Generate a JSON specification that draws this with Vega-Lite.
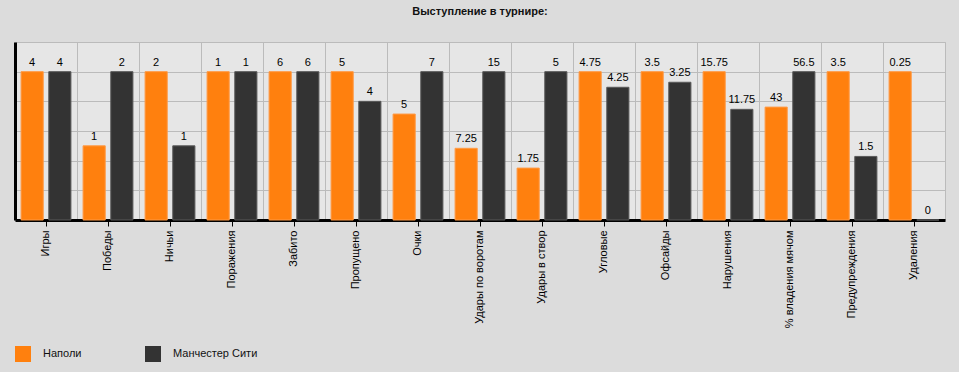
{
  "$schema": "https://vega.github.io/schema/vega-lite/v6.json",
  "width": 930,
  "height": 178,
  "autosize": {"type": "none"},
  "padding": {"left": 15, "top": 42, "right": 14, "bottom": 152},
  "background": "#dcdcdc",
  "title": {
    "text": "Выступление в турнире:",
    "font": "Liberation Sans",
    "fontSize": 11,
    "fontWeight": "bold",
    "color": "#111111",
    "offset": 25,
    "anchor": "middle"
  },
  "config": {
    "view": {
      "stroke": "#bbbbbb",
      "strokeWidth": 1,
      "fill": "#e6e6e6"
    },
    "axis": {"gridColor": "#bbbbbb", "gridWidth": 1, "gridOpacity": 1},
    "axisY": {
      "title": null,
      "labels": false,
      "ticks": false,
      "grid": true,
      "values": [0, 0.2, 0.4, 0.6, 0.8, 1, 1.2],
      "domainColor": "#000000",
      "domainWidth": 3
    }
  },
  "data": {
    "values": [
      {"cat": "Игры", "team": "Наполи", "value": 4},
      {"cat": "Игры", "team": "Манчестер Сити", "value": 4},
      {"cat": "Победы", "team": "Наполи", "value": 1},
      {"cat": "Победы", "team": "Манчестер Сити", "value": 2},
      {"cat": "Ничьи", "team": "Наполи", "value": 2},
      {"cat": "Ничьи", "team": "Манчестер Сити", "value": 1},
      {"cat": "Поражения", "team": "Наполи", "value": 1},
      {"cat": "Поражения", "team": "Манчестер Сити", "value": 1},
      {"cat": "Забито", "team": "Наполи", "value": 6},
      {"cat": "Забито", "team": "Манчестер Сити", "value": 6},
      {"cat": "Пропущено", "team": "Наполи", "value": 5},
      {"cat": "Пропущено", "team": "Манчестер Сити", "value": 4},
      {"cat": "Очки", "team": "Наполи", "value": 5},
      {"cat": "Очки", "team": "Манчестер Сити", "value": 7},
      {"cat": "Удары по воротам", "team": "Наполи", "value": 7.25},
      {"cat": "Удары по воротам", "team": "Манчестер Сити", "value": 15},
      {"cat": "Удары в створ", "team": "Наполи", "value": 1.75},
      {"cat": "Удары в створ", "team": "Манчестер Сити", "value": 5},
      {"cat": "Угловые", "team": "Наполи", "value": 4.75},
      {"cat": "Угловые", "team": "Манчестер Сити", "value": 4.25},
      {"cat": "Офсайды", "team": "Наполи", "value": 3.5},
      {"cat": "Офсайды", "team": "Манчестер Сити", "value": 3.25},
      {"cat": "Нарушения", "team": "Наполи", "value": 15.75},
      {"cat": "Нарушения", "team": "Манчестер Сити", "value": 11.75},
      {"cat": "% владения мячом", "team": "Наполи", "value": 43},
      {"cat": "% владения мячом", "team": "Манчестер Сити", "value": 56.5},
      {"cat": "Предупреждения", "team": "Наполи", "value": 3.5},
      {"cat": "Предупреждения", "team": "Манчестер Сити", "value": 1.5},
      {"cat": "Удаления", "team": "Наполи", "value": 0.25},
      {"cat": "Удаления", "team": "Манчестер Сити", "value": 0}
    ]
  },
  "transform": [
    {"joinaggregate": [{"op": "max", "field": "value", "as": "catMax"}], "groupby": ["cat"]},
    {"calculate": "datum.catMax > 0 ? datum.value / datum.catMax : 0", "as": "share"}
  ],
  "layer": [
    {
      "mark": {"type": "bar", "strokeWidth": 1},
      "encoding": {
        "x": {
          "field": "cat",
          "type": "nominal",
          "sort": null,
          "scale": {"paddingInner": 0, "paddingOuter": 0},
          "axis": {
            "orient": "bottom",
            "title": null,
            "grid": false,
            "labelAngle": -90,
            "labelFont": "Liberation Sans",
            "labelFontSize": 11,
            "labelColor": "#000000",
            "labelPadding": 4,
            "labelLimit": 200,
            "tickColor": "#000000",
            "tickSize": 6,
            "tickWidth": 1,
            "domainColor": "#000000",
            "domainWidth": 3
          }
        },
        "xOffset": {
          "field": "team",
          "type": "nominal",
          "sort": ["Наполи", "Манчестер Сити"],
          "scale": {"paddingInner": 0.2, "paddingOuter": 0.22}
        },
        "y": {
          "field": "share",
          "type": "quantitative",
          "scale": {"domain": [0, 1.2], "nice": false}
        },
        "stroke": {
          "field": "team",
          "type": "nominal",
          "scale": {"domain": ["Наполи", "Манчестер Сити"], "range": ["#ff9a45", "#5a5a5a"]},
          "legend": null
        },
        "color": {
          "field": "team",
          "type": "nominal",
          "scale": {"domain": ["Наполи", "Манчестер Сити"], "range": ["#ff800e", "#333333"]},
          "legend": {
            "title": null,
            "orient": "none",
            "legendX": 0,
            "legendY": 304,
            "direction": "horizontal",
            "symbolType": "square",
            "symbolSize": 256,
            "symbolStrokeWidth": 0,
            "symbolOpacity": 1,
            "labelFont": "Liberation Sans",
            "labelFontSize": 11,
            "labelColor": "#111111",
            "labelOffset": 12,
            "columnPadding": 63,
            "padding": 0
          }
        }
      }
    },
    {
      "mark": {"type": "text", "baseline": "bottom", "dy": -4, "font": "Liberation Sans", "fontSize": 11, "color": "#000000"},
      "encoding": {
        "x": {
          "field": "cat",
          "type": "nominal",
          "sort": null,
          "axis": {
            "orient": "top",
            "title": null,
            "grid": true,
            "bandPosition": 0,
            "labels": false,
            "ticks": false,
            "domain": false
          }
        },
        "xOffset": {"field": "team", "type": "nominal", "sort": ["Наполи", "Манчестер Сити"]},
        "y": {"field": "share", "type": "quantitative"},
        "text": {"field": "value", "type": "nominal"}
      }
    }
  ],
  "resolve": {"axis": {"x": "independent"}}
}
